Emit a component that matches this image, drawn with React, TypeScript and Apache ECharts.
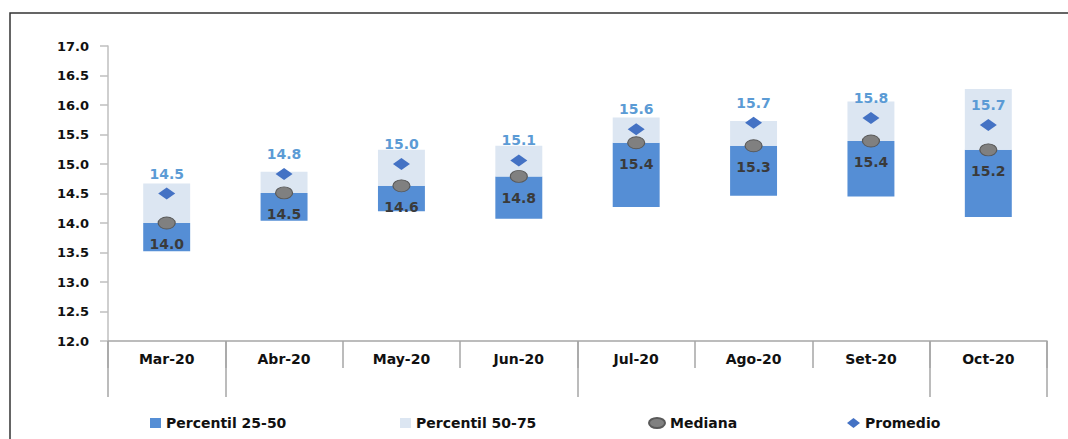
import React, { useEffect, useRef } from "react";
import * as echarts from "echarts";

const categories = ["Mar-20", "Abr-20", "May-20", "Jun-20", "Jul-20", "Ago-20", "Set-20", "Oct-20"];
const p25 = [13.52, 14.04, 14.2, 14.07, 14.27, 14.46, 14.45, 14.1];
const mediana = [14.0, 14.51, 14.63, 14.79, 15.36, 15.31, 15.39, 15.24];
const p75 = [14.67, 14.87, 15.24, 15.31, 15.79, 15.73, 16.06, 16.27];
const promedio = [14.5, 14.83, 15.0, 15.06, 15.59, 15.7, 15.78, 15.66];
const longTickIdx = [0, 1, 4, 7];

const FONT = "DejaVu Sans";
const ELLIPSE = "path://M0 5a5 5 0 1 0 10 0a5 5 0 1 0 -10 0z";

export default function App() {
  const ref = useRef<HTMLDivElement>(null);
  useEffect(() => {
    if (!ref.current) return;
    const chart = echarts.init(ref.current, null, { renderer: "svg" });
    const lowSeg = mediana.map((m, i) => +(m - p25[i]).toFixed(4));
    const highSeg = p75.map((h, i) => +(h - mediana[i]).toFixed(4));
    const legendText = { fontFamily: FONT, fontWeight: "bold", fontSize: 14, color: "#111" };
    const axisGray = "#A6A6A6";
    chart.setOption({
      animation: false,
      backgroundColor: "#fff",
      textStyle: { fontFamily: FONT },
      graphic: [
        {
          type: "rect",
          shape: { x: 10, y: 13, width: 1200, height: 600 },
          style: { fill: "none", stroke: "#333", lineWidth: 1.5 },
          silent: true,
        },
      ],
      grid: { left: 108, right: 21, top: 46, bottom: 98 },
      legend: [
        { left: 150, top: 416, padding: 0, itemWidth: 11, itemHeight: 10, itemGap: 5, textStyle: legendText, data: [{ name: "Percentil 25-50", icon: "rect" }] },
        { left: 400, top: 416, padding: 0, itemWidth: 11, itemHeight: 10, textStyle: legendText, data: [{ name: "Percentil 50-75", icon: "rect" }] },
        { left: 648, top: 416, padding: 0, itemWidth: 16, itemHeight: 10, symbolKeepAspect: false, textStyle: legendText, data: [{ name: "Mediana", icon: ELLIPSE }] },
        { left: 847, top: 416, padding: 0, itemWidth: 13, itemHeight: 10, symbolKeepAspect: false, textStyle: legendText, data: [{ name: "Promedio", icon: "diamond" }] },
      ],
      xAxis: [
        {
          type: "category",
          data: categories,
          axisLine: { lineStyle: { color: axisGray, width: 1.5 } },
          axisTick: { show: true, interval: 0, length: 27, lineStyle: { color: axisGray, width: 1.5 } },
          axisLabel: { margin: 11, fontFamily: FONT, fontWeight: "bold", fontSize: 14, color: "#111" },
        },
        {
          type: "category",
          data: categories,
          position: "bottom",
          axisLine: { show: false },
          axisTick: {
            show: true,
            interval: (idx: number) => longTickIdx.indexOf(idx) >= 0,
            length: 56,
            lineStyle: { color: axisGray, width: 1.5 },
          },
          axisLabel: { show: false },
        },
      ],
      yAxis: {
        type: "value",
        min: 12,
        max: 17,
        interval: 0.5,
        splitLine: { show: false },
        axisLine: { show: true, lineStyle: { color: "#BFBFBF", width: 1.5 } },
        axisTick: { show: true, length: 8, lineStyle: { color: "#BFBFBF", width: 1.5 } },
        axisLabel: {
          margin: 19,
          fontFamily: FONT,
          fontWeight: "bold",
          fontSize: 13,
          color: "#111",
          formatter: (v: number) => v.toFixed(1),
        },
      },
      series: [
        {
          name: "base",
          type: "bar",
          stack: "box",
          barWidth: "40%",
          silent: true,
          itemStyle: { color: "transparent" },
          data: p25,
        },
        {
          name: "Percentil 25-50",
          type: "bar",
          stack: "box",
          barWidth: "40%",
          itemStyle: { color: "#558ED5" },
          data: lowSeg,
        },
        {
          name: "Percentil 50-75",
          type: "bar",
          stack: "box",
          barWidth: "40%",
          itemStyle: { color: "#DCE6F2" },
          data: highSeg,
        },
        {
          name: "Mediana",
          type: "scatter",
          symbol: ELLIPSE,
          symbolSize: [17, 12],
          z: 5,
          itemStyle: { color: "#808080", borderColor: "#595959", borderWidth: 1, opacity: 1 },
          label: {
            show: true,
            position: "bottom",
            distance: 8,
            fontFamily: FONT,
            fontWeight: "bold",
            fontSize: 14,
            color: "#3A3A3A",
            formatter: (p: any) => Number(p.value).toFixed(1),
          },
          data: mediana,
        },
        {
          name: "Promedio",
          type: "scatter",
          symbol: "diamond",
          symbolSize: [17, 12],
          z: 6,
          itemStyle: { color: "#4472C4", opacity: 1 },
          label: {
            show: true,
            position: "top",
            distance: 7,
            fontFamily: FONT,
            fontWeight: "bold",
            fontSize: 14,
            color: "#5B9BD5",
            formatter: (p: any) => Number(p.value).toFixed(1),
          },
          data: promedio,
        },
      ],
    });
    return () => chart.dispose();
  }, []);
  return (
    <div
      ref={ref}
      style={{ position: "absolute", left: 0, top: 0, width: 1068, height: 439, background: "#fff" }}
    />
  );
}
